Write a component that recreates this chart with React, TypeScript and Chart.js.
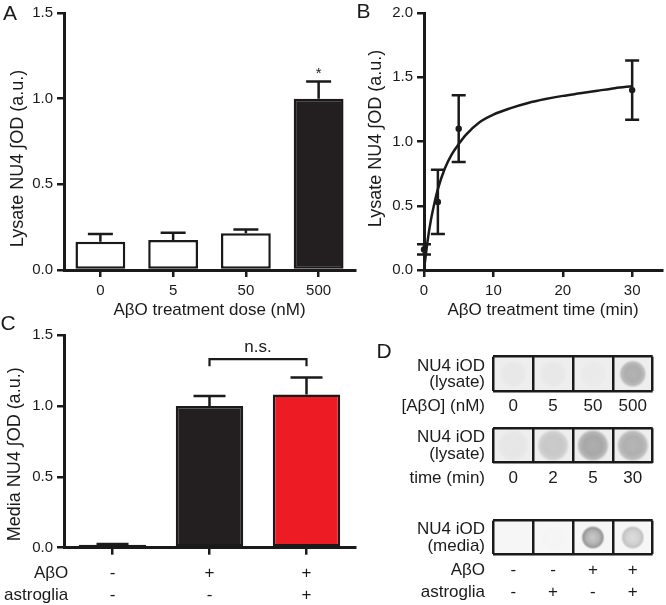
import React, { useEffect, useRef } from 'react';
import { Chart, registerables } from 'chart.js';

Chart.register(...registerables);

const FONT = "'Liberation Sans', Arial, Helvetica, sans-serif";
const INK = '#1a1a1a';

// ---------------- data ----------------
// Panel A
const doseLabels = ['0', '5', '50', '500'];
const lysateByDose = [0.165, 0.175, 0.215, 1.0];
const lysateByDoseErr = [0.045, 0.042, 0.022, 0.1];

// Panel B
const timePoints = [0, 2, 5, 30];
const lysateByTime = [0.16, 0.53, 1.1, 1.4];
const lysateByTimeErr = [0.04, 0.25, 0.26, 0.23];
const fitTime = [0, 0.5, 1, 1.5, 2, 3, 4, 5, 6, 8, 10, 12.5, 15, 17.5, 20, 22.5, 25, 27.5, 30];
const fitValue = [0, 0.22, 0.39, 0.52, 0.63, 0.79, 0.9, 0.98, 1.05, 1.15, 1.21, 1.26, 1.3, 1.33, 1.355, 1.375, 1.395, 1.415, 1.43];

// Panel C
const mediaGroupLabels = [['-', '-'], ['+', '-'], ['+', '+']];
const mediaRowNames = ['AβO', 'astroglia'];
const mediaValues = [0.02, 1.0, 1.08];
const mediaErr = [0.006, 0.07, 0.12];

// Panel D
const blotDoseLabels = ['0', '5', '50', '500'];
const blotDoseIntensity = [0.03, 0.03, 0.02, 0.32];
const blotTimeLabels = ['0', '2', '5', '30'];
const blotTimeIntensity = [0.04, 0.19, 0.35, 0.31];
const blotMediaLabels = [['-', '-'], ['-', '+'], ['+', '-'], ['+', '+']];
const blotMediaIntensity = [0.0, 0.01, 0.46, 0.25];

// ---------------- helpers ----------------
type TextSpec = {
  text: string;
  x: number;
  y: number;
  size: number;
  align?: CanvasTextAlign;
  baseline?: CanvasTextBaseline;
  rotate?: number;
};

function textPlugin(build: (chart: any) => TextSpec[]) {
  return {
    id: 'texts',
    afterDraw(chart: any) {
      const ctx = chart.ctx as CanvasRenderingContext2D;
      for (const t of build(chart)) {
        ctx.save();
        ctx.translate(t.x, t.y);
        if (t.rotate) ctx.rotate(t.rotate);
        ctx.font = `${t.size}px ${FONT}`;
        ctx.fillStyle = INK;
        ctx.textAlign = t.align ?? 'center';
        ctx.textBaseline = t.baseline ?? 'middle';
        ctx.fillText(t.text, 0, 0);
        ctx.restore();
      }
    },
  };
}

function errorBarPlugin(values: number[], errs: number[], cap: number, upOnly: boolean, datasetIndex = 0) {
  return {
    id: 'errorBars',
    afterDatasetsDraw(chart: any) {
      const meta = chart.getDatasetMeta(datasetIndex);
      const ys = chart.scales.y;
      const ctx = chart.ctx as CanvasRenderingContext2D;
      ctx.save();
      ctx.strokeStyle = INK;
      ctx.lineWidth = 2.5;
      meta.data.forEach((el: any, i: number) => {
        const x = el.x;
        const top = ys.getPixelForValue(values[i] + errs[i]);
        const bottom = ys.getPixelForValue(upOnly ? values[i] : values[i] - errs[i]);
        ctx.beginPath();
        ctx.moveTo(x, bottom);
        ctx.lineTo(x, top);
        ctx.moveTo(x - cap / 2, top);
        ctx.lineTo(x + cap / 2, top);
        if (!upOnly) {
          ctx.moveTo(x - cap / 2, bottom);
          ctx.lineTo(x + cap / 2, bottom);
        }
        ctx.stroke();
      });
      ctx.restore();
    },
  };
}

function axisBase(tickSize: number) {
  return {
    border: { display: true, color: INK, width: 3 },
    grid: {
      display: true,
      drawOnChartArea: false,
      drawTicks: true,
      tickLength: 7,
      tickWidth: 2.5,
      lineWidth: 2.5,
      tickColor: INK,
      color: INK,
      offset: false,
    },
    ticks: { color: INK, font: { family: FONT, size: tickSize } },
  };
}

const baseOptions = {
  animation: false,
  responsive: false,
  maintainAspectRatio: false,
  events: [],
};

// ---------------- configs ----------------
function configA() {
  const ax = axisBase(15);
  const ay = axisBase(15);
  return {
    type: 'bar',
    data: {
      labels: doseLabels,
      datasets: [
        {
          data: lysateByDose,
          backgroundColor: ['#ffffff', '#ffffff', '#ffffff', '#231f20'],
          borderColor: INK,
          borderWidth: 2.5,
          borderSkipped: false,
          barPercentage: 0.685,
          categoryPercentage: 1,
        },
      ],
    },
    options: {
      ...baseOptions,
      layout: { padding: { left: 0, top: 13, right: 5, bottom: 0 } },
      plugins: { legend: { display: false }, tooltip: { enabled: false } },
      scales: {
        x: {
          ...ax,
          ticks: { ...ax.ticks, padding: 5 },
          afterFit: (s: any) => {
            s.height = 51;
          },
        },
        y: {
          ...ay,
          min: 0,
          max: 1.5,
          ticks: { ...ay.ticks, stepSize: 0.5, padding: 4, callback: (v: any) => Number(v).toFixed(1) },
          afterFit: (s: any) => {
            s.width = 64;
          },
        },
      },
    },
    plugins: [
      errorBarPlugin(lysateByDose, lysateByDoseErr, 25, true),
      textPlugin((chart) => {
        const ca = chart.chartArea;
        const xs = chart.scales.x;
        const ys = chart.scales.y;
        return [
          { text: 'Lysate NU4 ∫OD (a.u.)', x: ca.left - 46, y: (ca.top + ca.bottom) / 2 + 17, size: 18, rotate: -Math.PI / 2 },
          { text: 'AβO treatment dose (nM)', x: (ca.left + ca.right) / 2, y: ca.bottom + 40.7, size: 17 },
          { text: '*', x: xs.getPixelForValue(3), y: ys.getPixelForValue(lysateByDose[3] + lysateByDoseErr[3]) - 4, size: 15, baseline: 'alphabetic' },
        ];
      }),
    ],
  };
}

function configB() {
  const ax = axisBase(15);
  const ay = axisBase(15);
  return {
    type: 'scatter',
    data: {
      datasets: [
        {
          type: 'line',
          data: fitTime.map((t, i) => ({ x: t, y: fitValue[i] })),
          borderColor: INK,
          borderWidth: 2.5,
          pointRadius: 0,
          fill: false,
          cubicInterpolationMode: 'monotone',
        },
        {
          data: timePoints.map((t, i) => ({ x: t, y: lysateByTime[i] })),
          backgroundColor: INK,
          borderColor: INK,
          borderWidth: 0,
          pointRadius: 3.2,
          showLine: false,
          clip: false,
        },
      ],
    },
    options: {
      ...baseOptions,
      layout: { padding: { left: 0, top: 13, right: 4, bottom: 0 } },
      plugins: { legend: { display: false }, tooltip: { enabled: false } },
      scales: {
        x: {
          ...ax,
          type: 'linear',
          min: 0,
          max: 34.3,
          ticks: { ...ax.ticks, stepSize: 10, padding: 5 },
          afterBuildTicks: (s: any) => {
            const kept = [0, 10, 20, 30];
            s.ticks = kept.map((v) => ({ value: v }));
          },
          afterFit: (s: any) => {
            s.height = 51;
          },
        },
        y: {
          ...ay,
          min: 0,
          max: 2,
          ticks: { ...ay.ticks, stepSize: 0.5, padding: 4, callback: (v: any) => Number(v).toFixed(1) },
          afterFit: (s: any) => {
            s.width = 94;
          },
        },
      },
    },
    plugins: [
      errorBarPlugin(lysateByTime, lysateByTimeErr, 14, false, 1),
      textPlugin((chart) => {
        const ca = chart.chartArea;
        return [
          { text: 'Lysate NU4 ∫OD (a.u.)', x: ca.left - 48, y: (ca.top + ca.bottom) / 2 - 3, size: 18, rotate: -Math.PI / 2 },
          { text: 'AβO treatment time (min)', x: (ca.left + ca.right) / 2, y: ca.bottom + 40.7, size: 17 },
        ];
      }),
    ],
  };
}

function configC() {
  const ax = axisBase(17);
  const ay = axisBase(15);
  return {
    type: 'bar',
    data: {
      labels: mediaGroupLabels,
      datasets: [
        {
          data: mediaValues,
          backgroundColor: ['#ffffff', '#231f20', '#ed1c24'],
          borderColor: INK,
          borderWidth: 2.5,
          borderSkipped: false,
          barPercentage: 0.695,
          categoryPercentage: 1,
        },
      ],
    },
    options: {
      ...baseOptions,
      layout: { padding: { left: 0, top: 15, right: 5, bottom: 0 } },
      plugins: { legend: { display: false }, tooltip: { enabled: false } },
      scales: {
        x: {
          ...ax,
          ticks: { ...ax.ticks, padding: 7.5, font: { family: FONT, size: 17, lineHeight: 1.3 } },
          afterFit: (s: any) => {
            s.height = 57.3;
          },
        },
        y: {
          ...ay,
          min: 0,
          max: 1.5,
          ticks: { ...ay.ticks, stepSize: 0.5, padding: 4, callback: (v: any) => Number(v).toFixed(1) },
          afterFit: (s: any) => {
            s.width = 64;
          },
        },
      },
    },
    plugins: [
      errorBarPlugin(mediaValues, mediaErr, 32, true),
      {
        id: 'bracket',
        afterDatasetsDraw(chart: any) {
          const xs = chart.scales.x;
          const ys = chart.scales.y;
          const ctx = chart.ctx as CanvasRenderingContext2D;
          const x1 = xs.getPixelForValue(1);
          const x2 = xs.getPixelForValue(2);
          const yb = ys.getPixelForValue(1.33);
          const yl = ys.getPixelForValue(1.28);
          ctx.save();
          ctx.strokeStyle = INK;
          ctx.lineWidth = 2.2;
          ctx.beginPath();
          ctx.moveTo(x1, yl);
          ctx.lineTo(x1, yb);
          ctx.lineTo(x2, yb);
          ctx.lineTo(x2, yl);
          ctx.stroke();
          ctx.restore();
        },
      },
      textPlugin((chart) => {
        const ca = chart.chartArea;
        const xs = chart.scales.x;
        const ys = chart.scales.y;
        const line1 = ca.bottom + 7 + 7.5 + 11.05;
        return [
          { text: 'Media NU4 ∫OD (a.u.)', x: ca.left - 49, y: (ca.top + ca.bottom) / 2 + 13, size: 18, rotate: -Math.PI / 2 },
          { text: 'n.s.', x: (xs.getPixelForValue(1) + xs.getPixelForValue(2)) / 2, y: ys.getPixelForValue(1.41), size: 17 },
          { text: mediaRowNames[0], x: ca.left + 4.3, y: line1, size: 17, align: 'right' },
          { text: mediaRowNames[1], x: ca.left + 4.3, y: line1 + 22.1, size: 17, align: 'right' },
        ];
      }),
    ],
  };
}

type BlotRow = {
  labels: any[];
  intensity: number[];
  leftLines: string[];
  axisNames: string[];
  cellColor: number;
  radius: number;
  ring: boolean;
  padTop: number;
  axisHeight: number;
  tickPad: number;
  lineHeight: number;
};

function gray(v: number) {
  const c = Math.max(0, Math.min(255, Math.round(v)));
  return `rgb(${c},${c},${c})`;
}

function configBlot(row: BlotRow) {
  return {
    type: 'bar',
    data: {
      labels: row.labels,
      datasets: [
        {
          data: row.labels.map(() => [0, 1]),
          backgroundColor: gray(row.cellColor),
          borderWidth: 0,
          barPercentage: 1,
          categoryPercentage: 1,
        },
      ],
    },
    options: {
      ...baseOptions,
      layout: { padding: { left: 0, top: row.padTop, right: 13.3, bottom: 0 } },
      plugins: { legend: { display: false }, tooltip: { enabled: false } },
      scales: {
        x: {
          border: { display: false },
          grid: { display: true, offset: true, drawTicks: false, drawOnChartArea: true, color: INK, lineWidth: 2.5, z: 1 },
          ticks: { color: INK, padding: row.tickPad, font: { family: FONT, size: 17, lineHeight: row.lineHeight } },
          afterFit: (s: any) => {
            s.height = row.axisHeight;
          },
        },
        y: {
          min: 0,
          max: 1,
          border: { display: false },
          grid: { display: true, drawTicks: false, drawOnChartArea: true, color: INK, lineWidth: 2.5, z: 1 },
          ticks: { display: false, stepSize: 1 },
          afterFit: (s: any) => {
            s.width = 153.3;
          },
        },
      },
    },
    plugins: [
      {
        id: 'spots',
        afterDatasetsDraw(chart: any) {
          const xs = chart.scales.x;
          const ys = chart.scales.y;
          const ctx = chart.ctx as CanvasRenderingContext2D;
          const cy = ys.getPixelForValue(0.5);
          const bg = row.cellColor;
          row.intensity.forEach((v, i) => {
            const cx = xs.getPixelForValue(i);
            const r = row.radius;
            const g = ctx.createRadialGradient(cx, cy, 0, cx, cy, r);
            const d = v * 200;
            if (row.ring) {
              g.addColorStop(0, gray(bg - d * 0.5));
              g.addColorStop(0.5, gray(bg - d * 0.7));
              g.addColorStop(0.8, gray(bg - d));
              g.addColorStop(1, gray(bg));
            } else {
              g.addColorStop(0, gray(bg - d * 0.92));
              g.addColorStop(0.55, gray(bg - d));
              g.addColorStop(0.8, gray(bg - d * 0.8));
              g.addColorStop(1, gray(bg));
            }
            ctx.save();
            ctx.fillStyle = g;
            ctx.beginPath();
            ctx.arc(cx, cy, r, 0, Math.PI * 2);
            ctx.fill();
            ctx.restore();
          });
        },
      },
      textPlugin((chart) => {
        const ca = chart.chartArea;
        const cy = (ca.top + ca.bottom) / 2;
        const lx = ca.left - 8.3;
        const line1 = ca.bottom + row.tickPad + (17 * row.lineHeight) / 2;
        const specs: TextSpec[] = [
          { text: row.leftLines[0], x: lx, y: cy - 8, size: 17, align: 'right' },
          { text: row.leftLines[1], x: lx, y: cy + 8.5, size: 17, align: 'right' },
        ];
        row.axisNames.forEach((n, i) => {
          specs.push({ text: n, x: lx, y: line1 + i * 17 * row.lineHeight, size: 17, align: 'right' });
        });
        return specs;
      }),
    ],
  };
}

const blotRows: BlotRow[] = [
  {
    labels: blotDoseLabels,
    intensity: blotDoseIntensity,
    leftLines: ['NU4 iOD', '(lysate)'],
    axisNames: ['[AβO] (nM)'],
    cellColor: 238,
    radius: 14,
    ring: false,
    padTop: 16.7,
    axisHeight: 29,
    tickPad: 4.8,
    lineHeight: 1.2,
  },
  {
    labels: blotTimeLabels,
    intensity: blotTimeIntensity,
    leftLines: ['NU4 iOD', '(lysate)'],
    axisNames: ['time (min)'],
    cellColor: 238,
    radius: 16.5,
    ring: false,
    padTop: 8.3,
    axisHeight: 37.3,
    tickPad: 5.4,
    lineHeight: 1.2,
  },
  {
    labels: blotMediaLabels,
    intensity: blotMediaIntensity,
    leftLines: ['NU4 iOD', '(media)'],
    axisNames: ['AβO', 'astroglia'],
    cellColor: 246,
    radius: 12,
    ring: true,
    padTop: 20.7,
    axisHeight: 50.7,
    tickPad: 5.8,
    lineHeight: 1.25,
  },
];

// ---------------- components ----------------
function ChartCanvas(props: { left: number; top: number; width: number; height: number; make: () => any }) {
  const ref = useRef<HTMLCanvasElement>(null);
  useEffect(() => {
    const chart = new Chart(ref.current as HTMLCanvasElement, props.make());
    return () => chart.destroy();
  }, []);
  return (
    <canvas
      ref={ref}
      width={props.width}
      height={props.height}
      style={{ position: 'absolute', left: props.left, top: props.top, width: props.width, height: props.height }}
    />
  );
}

function Letter(props: { text: string; left: number; top: number }) {
  return (
    <div
      style={{
        position: 'absolute',
        left: props.left,
        top: props.top,
        fontFamily: FONT,
        fontSize: 21,
        lineHeight: '21px',
        color: INK,
      }}
    >
      {props.text}
    </div>
  );
}

export default function App() {
  return (
    <div style={{ position: 'absolute', left: 0, top: 0, width: 666, height: 605, background: '#ffffff', overflow: 'hidden' }}>
      <ChartCanvas left={0} top={0} width={360} height={321} make={configA} />
      <ChartCanvas left={330} top={0} width={336} height={321} make={configB} />
      <ChartCanvas left={0} top={320} width={360} height={285} make={configC} />
      <ChartCanvas left={340} top={340} width={326} height={80} make={() => configBlot(blotRows[0])} />
      <ChartCanvas left={340} top={420} width={326} height={80} make={() => configBlot(blotRows[1])} />
      <ChartCanvas left={340} top={500} width={326} height={105} make={() => configBlot(blotRows[2])} />
      <Letter text="A" left={3} top={2.3} />
      <Letter text="B" left={356.5} top={0.3} />
      <Letter text="C" left={0.5} top={312.3} />
      <Letter text="D" left={376.5} top={340.3} />
    </div>
  );
}
